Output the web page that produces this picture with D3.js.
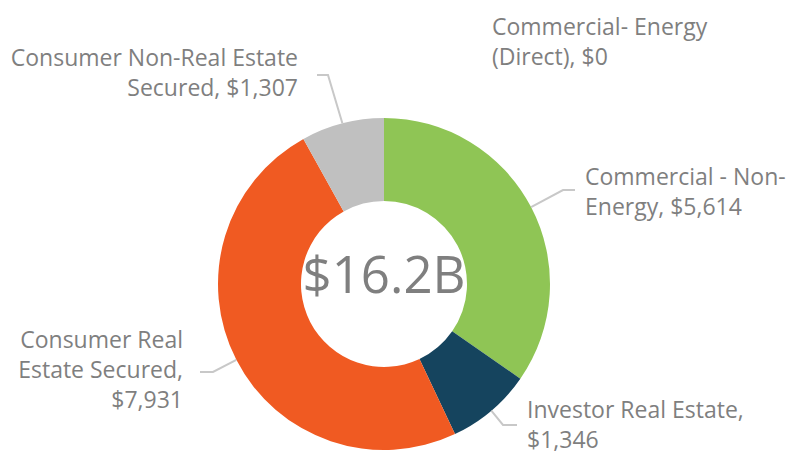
<!DOCTYPE html>
<html>
<head>
<meta charset="utf-8">
<script src="https://cdn.jsdelivr.net/npm/d3@7"></script>
<style>
  body { margin: 0; background: #fff; }
  text { font-family: "Open Sans", Lato, sans-serif; fill: #7f7f7f; }
</style>
</head>
<body>
<div id="chart"></div>
<script>
var categories = ["Commercial- Energy (Direct)", "Commercial - Non-Energy", "Investor Real Estate",
                  "Consumer Real Estate Secured", "Consumer Non-Real Estate Secured"];
var values = [0, 5614, 1346, 7931, 1307];
var labelLines = [
    ["Commercial- Energy", "(Direct), $0"],
    ["Commercial - Non-", "Energy, $5,614"],
    ["Investor Real Estate,", "$1,346"],
    ["Consumer Real", "Estate Secured,", "$7,931"],
    ["Consumer Non-Real Estate", "Secured, $1,307"]
];
var totalLabel = "$16.2B";
var colors = ["#4f81bd", "#8fc555", "#15445e", "#f05a22", "#c0c0c0"];

var width = 790,
    height = 452,
    cx = 384,
    cy = 284,
    outerR = 166,
    innerR = 83,
    lineH = 30;

// label placement, relative to centre: elbow of leader, end of leader, text anchor point
var layout = [
    {leader: false, tx: 108, ty: -249, anchor: "start"},
    {leader: true, elbow: [179, -94], end: [191, -94], tx: 201, ty: -99, anchor: "start"},
    {leader: true, elbow: [119, 141], end: [133, 141], tx: 143, ty: 134, anchor: "start"},
    {leader: true, elbow: [-171, 88], end: [-184, 88], tx: -201, ty: 64, anchor: "end"},
    {leader: true, elbow: [-56, -209], end: [-67, -209], tx: -86, ty: -218, anchor: "end"}
];

var data = categories.map(function(c, i) {
    return {name: c, value: values[i], lines: labelLines[i], color: colors[i], pos: layout[i]};
});

var svg = d3.select("#chart")
    .append("svg")
    .attr("width", width)
    .attr("height", height);

var g = svg.append("g")
    .attr("transform", "translate(" + cx + "," + cy + ")");

var pie = d3.pie()
    .sort(null)
    .value(function(d) { return d.value; });

var arc = d3.arc()
    .innerRadius(innerR)
    .outerRadius(outerR);

var arcs = pie(data);

g.selectAll("path.slice")
    .data(arcs)
    .enter()
    .append("path")
    .attr("class", "slice")
    .attr("d", arc)
    .attr("fill", function(d) { return d.data.color; });

// leader lines start on the outer edge at the middle of each slice
g.selectAll("polyline.leader")
    .data(arcs.filter(function(d) { return d.data.pos.leader; }))
    .enter()
    .append("polyline")
    .attr("class", "leader")
    .attr("fill", "none")
    .attr("stroke", "#c8c8c8")
    .attr("stroke-width", 2)
    .attr("points", function(d) {
        var mid = (d.startAngle + d.endAngle) / 2;
        var start = [outerR * Math.sin(mid), -outerR * Math.cos(mid)];
        return [start, d.data.pos.elbow, d.data.pos.end].map(function(p) { return p.join(","); }).join(" ");
    });

var labels = g.selectAll("text.label")
    .data(arcs)
    .enter()
    .append("text")
    .attr("class", "label")
    .attr("font-size", 23)
    .attr("text-anchor", function(d) { return d.data.pos.anchor; })
    .attr("transform", function(d) { return "translate(" + d.data.pos.tx + "," + d.data.pos.ty + ")"; });

labels.selectAll("tspan")
    .data(function(d) { return d.data.lines; })
    .enter()
    .append("tspan")
    .attr("x", 0)
    .attr("y", function(d, i) { return i * lineH; })
    .text(function(d) { return d; });

g.append("text")
    .attr("class", "total")
    .attr("text-anchor", "middle")
    .attr("y", 9)
    .attr("font-size", 51)
    .text(totalLabel);
</script>
</body>
</html>
